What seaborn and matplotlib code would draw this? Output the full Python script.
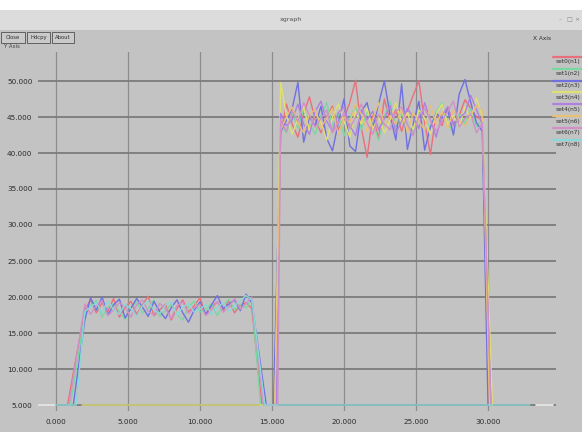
import numpy as np
import pandas as pd
import matplotlib
matplotlib.use("Agg")
import matplotlib.pyplot as plt
from matplotlib.patches import Rectangle
from matplotlib.lines import Line2D
import seaborn as sns

# ---- data -------------------------------------------------------------
LABELS = ["set0(n1)", "set1(n2)", "set2(n3)", "set3(n4)",
          "set4(n5)", "set5(n6)", "set6(n7)", "set7(n8)"]
COLORS = ["#e8707c", "#78d8a0", "#7070e0", "#e0e070",
          "#b080e0", "#e8c078", "#d090c8", "#88d8d8"]
BASE = 5.0

X_TICKS = [0, 5, 10, 15, 20, 25, 30]
Y_TICKS = [5, 10, 15, 20, 25, 30, 35, 40, 45, 50]

# sample times of the two busy periods
T1 = np.round(np.arange(2.0, 13.61, 0.4), 2)
T2 = np.round(np.arange(15.6, 29.61, 0.4), 2)

red_p1 = [18.2, 19.6, 17.8, 19.2, 18.0, 19.8, 17.2, 18.6, 19.4, 17.6, 18.9, 20.1, 17.4, 18.2, 19.0,
          16.8, 18.4, 19.6, 17.9, 18.8, 19.9, 17.5, 18.7, 19.3, 18.1, 19.5, 17.8, 18.9, 19.2, 18.4]
green_p1 = [17.5, 18.8, 19.5, 17.2, 18.6, 19.1, 18.0, 16.9, 18.5, 19.3, 17.8, 18.4, 19.6, 17.3, 18.1,
            19.0, 17.6, 16.8, 18.7, 19.4, 17.9, 18.3, 19.1, 17.4, 18.8, 19.7, 18.2, 19.0, 18.5, 19.8]
blue_p1 = [16.8, 19.9, 18.2, 20.0, 17.5, 18.9, 19.7, 17.1, 18.4, 19.8, 18.6, 17.3, 19.4, 18.0, 17.0,
           18.5, 19.6, 17.8, 16.5, 18.2, 19.3, 17.6, 18.9, 20.2, 18.4, 19.0, 19.6, 18.1, 20.4, 19.2]
pink_p1 = [19.0, 17.6, 18.8, 19.5, 17.4, 18.2, 19.2, 18.6, 17.2, 18.9, 19.6, 18.0, 17.5, 19.1, 18.4,
           17.0, 18.8, 19.3, 17.7, 18.5, 19.0, 17.4, 18.2, 19.4, 17.9, 18.6, 19.8, 18.3, 19.1, 20.0]
cyan_p1 = [18.0, 18.6, 19.2, 17.8, 19.4, 18.2, 17.6, 19.0, 18.4, 17.3, 18.8, 19.5, 18.1, 17.7, 18.9,
           19.3, 17.5, 18.6, 19.1, 17.9, 18.3, 19.0, 17.6, 18.5, 19.2, 18.0, 18.8, 19.5, 20.2, 19.6]

red_p2 = [42.5, 46.8, 44.0, 42.2, 45.5, 47.8, 44.6, 42.8, 45.0, 46.5, 43.2, 44.8, 47.0, 50.1, 43.5, 39.4,
          45.2, 42.0, 47.5, 44.4, 46.0, 43.0, 45.8, 48.0, 50.0, 44.2, 39.8, 45.6, 43.8, 46.4, 44.0, 45.2,
          47.4, 46.2, 45.0, 44.6]
green_p2 = [44.0, 42.8, 45.6, 43.5, 46.2, 44.0, 42.6, 45.2, 47.0, 43.8, 45.5, 42.4, 44.8, 46.6, 43.2, 45.8,
            44.2, 41.8, 45.0, 47.2, 43.6, 45.4, 44.0, 42.6, 46.0, 44.8, 43.4, 45.6, 47.0, 44.2, 42.8, 45.4,
            44.0, 46.2, 43.6, 44.8]
blue_p2 = [43.0, 44.5, 46.2, 49.8, 41.5, 45.0, 43.8, 46.5, 42.0, 40.3, 44.2, 47.5, 41.0, 40.2, 45.8, 47.0,
           43.5, 46.8, 50.0, 45.2, 41.8, 49.6, 40.5, 44.0, 47.2, 40.4, 43.6, 45.5, 44.8, 46.0, 42.5, 48.2,
           50.2, 47.0, 44.2, 43.0]
yellow_p2 = [49.8, 45.2, 42.6, 44.8, 46.4, 43.0, 45.6, 44.2, 41.8, 45.0, 46.8, 44.4, 42.2, 45.8, 44.0, 46.2,
             43.4, 45.0, 42.8, 44.6, 47.0, 44.2, 45.6, 43.2, 46.0, 44.8, 42.6, 45.4, 46.8, 44.0, 45.2, 43.6,
             46.4, 44.8, 47.6, 45.0]
purple_p2 = [45.5, 43.8, 44.6, 46.8, 44.0, 42.6, 45.8, 47.2, 44.4, 43.0, 45.6, 46.4, 43.8, 42.4, 46.0, 44.6,
             45.8, 43.2, 44.8, 46.6, 42.8, 44.4, 46.2, 45.0, 43.4, 47.0, 44.6, 42.2, 45.2, 46.4, 43.8, 44.8,
             45.6, 48.0, 46.0, 44.0]
orange_p2 = [43.2, 45.0, 46.4, 44.2, 42.8, 45.4, 46.0, 43.6, 44.8, 46.2, 42.6, 45.0, 44.2, 46.8, 45.4, 43.0,
             44.6, 47.0, 43.8, 45.2, 44.0, 46.2, 42.8, 45.6, 44.4, 43.2, 46.6, 44.0, 45.8, 43.4, 46.0, 44.6,
             43.8, 45.2, 46.6, 45.8]
pink_p2 = [44.6, 43.0, 45.8, 44.4, 47.0, 45.2, 43.6, 44.8, 46.0, 42.8, 44.2, 45.6, 43.4, 45.0, 46.8, 44.2,
           42.6, 45.4, 44.0, 43.2, 45.8, 46.4, 44.0, 42.4, 45.2, 46.2, 44.6, 43.0, 44.4, 45.8, 47.2, 43.6,
           44.8, 45.4, 42.8, 44.2]

P1 = [red_p1, green_p1, blue_p1, None, None, None, pink_p1, cyan_p1]
P2 = [red_p2, green_p2, blue_p2, yellow_p2, purple_p2, orange_p2, pink_p2, None]

# idle / ramp times of each set
BASE_START = [0.8, 1.0, 1.2, 1.8, 14.8, 14.8, 0.9, 0.0]
RISE1 = [0.8, 1.0, 1.2, None, None, None, 0.9, 1.4]
FALL1 = [14.3, 14.2, 14.6, None, None, None, 14.4, 14.5]
RISE2 = [15.2, 15.3, 15.1, 15.2, 15.3, 15.2, 15.4, None]
FALL2 = [30.1, 30.2, 30.0, 30.3, 30.2, 30.1, 30.2, None]
BASE_END = [30.1, 30.2, 30.0, 30.3, 30.2, 30.1, 30.2, 32.9]

# the white reference trace at the idle level
WHITE_T = [-1.25, -0.1, np.nan, 33.3, 34.5]
WHITE_V = [BASE, BASE, np.nan, BASE, BASE]

# ---- assemble long table ---------------------------------------------
rows = []
for i, name in enumerate(LABELS):
    pts = [(BASE_START[i], BASE)]
    if P1[i] is not None:
        if RISE1[i] != BASE_START[i]:
            pts.append((RISE1[i], BASE))
        pts += list(zip(T1, P1[i]))
        pts.append((FALL1[i], BASE))
    if P2[i] is not None:
        pts.append((RISE2[i], BASE))
        pts += list(zip(T2, P2[i]))
        pts.append((FALL2[i], BASE))
    if pts[-1][0] != BASE_END[i]:
        pts.append((BASE_END[i], BASE))
    for k, (t, v) in enumerate(pts):
        rows.append({"series": name, "order": k, "t": float(t), "v": float(v)})
df = pd.DataFrame(rows)

# ---- figure -----------------------------------------------------------
sns.set_style("white")
plt.rcParams["font.family"] = ["DejaVu Sans"]

W, H = 582, 432
BG = "#c3c3c3"
fig = plt.figure(figsize=(W / 100, H / 100), dpi=100, facecolor=BG)


def fx(x):
    return x / W


def fy(y):
    return 1 - y / H


# window decoration
fig.add_artist(Rectangle((0, fy(10)), 1, 10 / H, transform=fig.transFigure,
                         facecolor="#ffffff", edgecolor="none"))
fig.add_artist(Rectangle((0, fy(30)), 1, 20 / H, transform=fig.transFigure,
                         facecolor="#dcdcdc", edgecolor="none"))
fig.text(0.5, fy(20), "xgraph", ha="center", va="center", fontsize=4.5, color="#505050")
for x, s in [(560, "–"), (569, "□"), (577, "×")]:
    fig.text(fx(x), fy(20), s, ha="center", va="center", fontsize=4.5, color="#8a8a8a")

for x0, x1, s in [(1, 25, "Close"), (27, 50, "Hdcpy"), (52, 74, "About")]:
    fig.add_artist(Rectangle((fx(x0), fy(43)), (x1 - x0) / W, 11 / H, transform=fig.transFigure,
                             facecolor="#cacaca", edgecolor="#505050", lw=0.6))
    fig.text(fx((x0 + x1) / 2), fy(37.5), s, ha="center", va="center", fontsize=3.8, color="#303030")

fig.text(fx(4), fy(47), "Y Axis", ha="left", va="center", fontsize=3.8, color="#404040")
fig.text(fx(533), fy(38), "X Axis", ha="left", va="center", fontsize=4.2, color="#303030")

# plotting area
ax = fig.add_axes([fx(38), fy(411), (556 - 38) / W, (411 - 52) / H])
ax.set_facecolor("none")
for sp in ax.spines.values():
    sp.set_visible(False)

ax.set_xlim(-1.25, 34.72)
ax.set_ylim(BASE - 6 / 36 * 5, BASE + 353 / 36 * 5)
ax.set_xticks(X_TICKS)
ax.set_yticks(Y_TICKS)
ax.set_xticklabels([f"{v:.3f}" for v in X_TICKS])
ax.set_yticklabels([f"{v:.3f}" for v in Y_TICKS])
ax.tick_params(axis="both", length=0, labelsize=5.2, labelcolor="#2a2a2a")
ax.tick_params(axis="x", pad=6)
ax.tick_params(axis="y", pad=4)
ax.yaxis.grid(True, color="#7c7c7c", lw=1.3)
ax.xaxis.grid(True, color="#8c8c8c", lw=0.9)
ax.set_axisbelow(True)
ax.set_xlabel("")
ax.set_ylabel("")

ax.plot(WHITE_T, WHITE_V, color="#f4f4f4", lw=1.2)
sns.lineplot(data=df, x="t", y="v", hue="series", hue_order=LABELS, palette=COLORS,
             units="series", estimator=None, sort=False, lw=1.0, legend=False, ax=ax)
ax.set_xlabel("")
ax.set_ylabel("")

# legend, xgraph style: coloured bar over each name
for k, (name, col) in enumerate(zip(LABELS, COLORS)):
    y = 57 + k * 11.8
    fig.add_artist(Line2D([fx(553), fx(582)], [fy(y), fy(y)], transform=fig.transFigure,
                          color=col, lw=1.6))
    fig.text(fx(556), fy(y + 5), name, ha="left", va="center", fontsize=4.2, color="#303030")

fig.savefig("out.png", dpi=100, facecolor=BG)
